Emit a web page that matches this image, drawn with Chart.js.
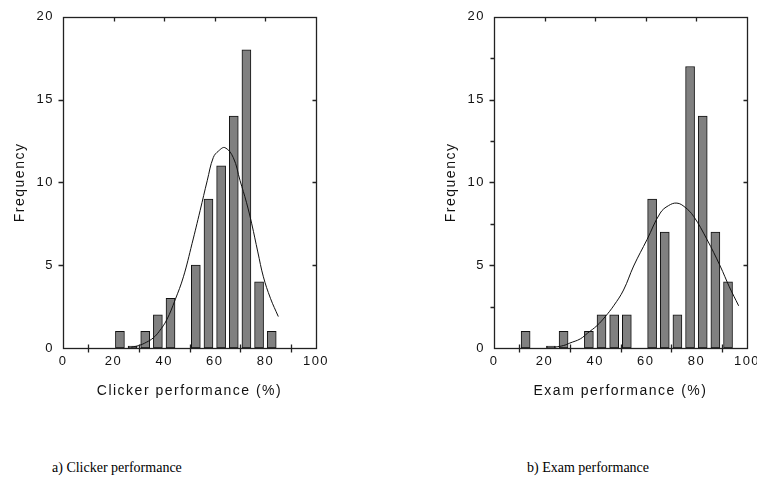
<!DOCTYPE html>
<html>
<head>
<meta charset="utf-8">
<script src="https://cdn.jsdelivr.net/npm/chart.js"></script>
<style>
body {
  margin: 0;
  width: 757px;
  height: 481px;
  background: #fff;
  position: relative;
  overflow: hidden;
}
canvas { position: absolute; top: 0; }
#clickerChart { left: 0; }
#examChart { left: 431px; }
.caption {
  position: absolute;
  top: 459px;
  font-family: "Liberation Serif", "Times New Roman", serif;
  font-size: 14px;
  line-height: 18px;
  color: #000;
  white-space: nowrap;
}
</style>
</head>
<body>

<canvas id="clickerChart" width="340" height="410"></canvas>
<canvas id="examChart" width="326" height="410"></canvas>

<div class="caption" style="left:52px;">a) Clicker performance</div>
<div class="caption" style="left:527px;">b) Exam performance</div>

<script>
// histogram bins (bin centres, %) and counts
const clickerBins = [22.5, 27.5, 32.5, 37.5, 42.5, 52.5, 57.5, 62.5, 67.5, 72.5, 77.5, 82.5];
const clickerCounts = [1, 0, 1, 2, 3, 5, 9, 11, 14, 18, 4, 1];

const examBins = [12.5, 22.5, 27.5, 37.5, 42.5, 47.5, 52.5, 62.5, 67.5, 72.5, 77.5, 82.5, 87.5, 92.5];
const examCounts = [1, 0, 1, 1, 2, 2, 2, 9, 7, 2, 17, 14, 7, 4];

// fitted curves
const clickerCurveX = [27, 30, 33, 35.6, 38, 41, 44.3, 47.6, 51, 54.2, 57, 59.4, 61.5, 64, 67.3, 70, 72.5, 74.6, 77, 79.2, 82, 85.1];
const clickerCurveY = [0.05, 0.15, 0.35, 0.6, 1.0, 1.7, 2.9, 4.3, 6.3, 8.3, 10.1, 11.5, 11.9, 12.1, 11.5, 10.1, 8.8, 7.5, 5.8, 4.3, 3.0, 1.9];

const examCurveX = [24, 27.5, 30, 34.1, 37, 40.7, 44, 47.3, 51.2, 55.2, 60.5, 65.7, 69, 72.3, 75.5, 78.9, 84.2, 89.4, 93, 96.7];
const examCurveY = [0.05, 0.15, 0.3, 0.55, 0.9, 1.35, 1.9, 2.55, 3.5, 4.95, 6.55, 8.15, 8.6, 8.75, 8.5, 7.95, 6.55, 4.95, 3.7, 2.55];

// axis ticks
const xLabelTicks = [0, 20, 40, 60, 80, 100];
const xTopTicks = [20, 40, 60, 80];
const xCrossTicks = [10, 30, 50, 70, 90];
const yMajorTicks = [5, 10, 15];
const yMinorTicks = [2.5, 7.5, 12.5, 17.5];

const AXIS_FONT = "'Liberation Sans', Arial, sans-serif";

// frame + tick marks drawn from the scales
const framePlugin = {
  id: 'frame',
  beforeUpdate(chart) { chart.ctx.letterSpacing = '1.5px'; },
  beforeDraw(chart) { chart.ctx.letterSpacing = '1.5px'; },
  afterDraw(chart, args, opts) {
    const {ctx, chartArea: a, scales: {x, y}} = chart;
    const L = Math.round(a.left) + 0.5, R = Math.round(a.right) + 0.5;
    const T = Math.round(a.top) + 0.5, B = Math.round(a.bottom) + 0.5;
    ctx.save();
    ctx.strokeStyle = '#222';
    ctx.lineWidth = 1.3;
    ctx.strokeRect(L, T, R - L, B - T);
    ctx.beginPath();
    const px = v => Math.round(x.getPixelForValue(v)) + 0.5;
    const py = v => Math.round(y.getPixelForValue(v)) + 0.5;
    xCrossTicks.forEach(v => { ctx.moveTo(px(v), B - 4); ctx.lineTo(px(v), B + 4); });
    xTopTicks.forEach(v => { ctx.moveTo(px(v), T); ctx.lineTo(px(v), T + 4); });
    yMajorTicks.forEach(v => {
      ctx.moveTo(L - 5, py(v)); ctx.lineTo(L, py(v));
      ctx.moveTo(R - 4, py(v)); ctx.lineTo(R, py(v));
    });
    if (opts.minor) {
      yMinorTicks.forEach(v => { ctx.moveTo(L - 4, py(v)); ctx.lineTo(L, py(v)); });
    }
    ctx.stroke();
    ctx.restore();
  }
};

function makeChart(id, bins, counts, curveX, curveY, xTitle, rightPad, minor) {
  return new Chart(document.getElementById(id), {
    type: 'bar',
    data: {
      datasets: [
        {
          type: 'line',
          data: curveX.map((v, i) => ({x: v, y: curveY[i]})),
          borderColor: '#111',
          borderWidth: 1,
          pointRadius: 0,
          tension: 0.4,
          order: 0
        },
        {
          type: 'bar',
          data: bins.map((v, i) => ({x: v, y: counts[i]})),
          backgroundColor: '#808080',
          borderColor: '#111',
          borderWidth: 1,
          borderSkipped: false,
          barThickness: 9,
          minBarLength: 2,
          order: 1
        }
      ]
    },
    options: {
      responsive: false,
      animation: false,
      layout: { padding: { left: 0, top: 15, right: rightPad, bottom: 0 } },
      plugins: { legend: { display: false }, tooltip: { enabled: false }, frame: { minor } },
      scales: {
        x: {
          type: 'linear',
          min: 0, max: 100,
          offset: false,
          grid: { display: false, drawTicks: false },
          border: { display: false },
          afterBuildTicks: s => { s.ticks = xLabelTicks.map(v => ({value: v})); },
          ticks: {
            autoSkip: false, maxRotation: 0, padding: 6,
            color: '#111', font: { family: AXIS_FONT, size: 13 }
          },
          title: {
            display: true, text: xTitle, color: '#111',
            font: { family: AXIS_FONT, size: 14 },
            padding: { top: 0, bottom: 10 }
          },
          afterFit: s => { s.height = 62; s.paddingLeft = 0; s.paddingRight = 0; }
        },
        y: {
          min: 0, max: 20,
          grid: { display: false, drawTicks: false },
          border: { display: false },
          ticks: {
            stepSize: 5, padding: 9,
            color: '#111', font: { family: AXIS_FONT, size: 13 }
          },
          title: {
            display: true, text: 'Frequency', color: '#111',
            font: { family: AXIS_FONT, size: 14 },
            padding: { top: 12, bottom: 0 }
          },
          afterFit: s => { s.width = 63; }
        }
      }
    },
    plugins: [framePlugin]
  });
}

makeChart('clickerChart', clickerBins, clickerCounts, clickerCurveX, clickerCurveY,
  'Clicker performance (%)', 24, false);
makeChart('examChart', examBins, examCounts, examCurveX, examCurveY,
  'Exam performance (%)', 10, true);
</script>

</body>
</html>
